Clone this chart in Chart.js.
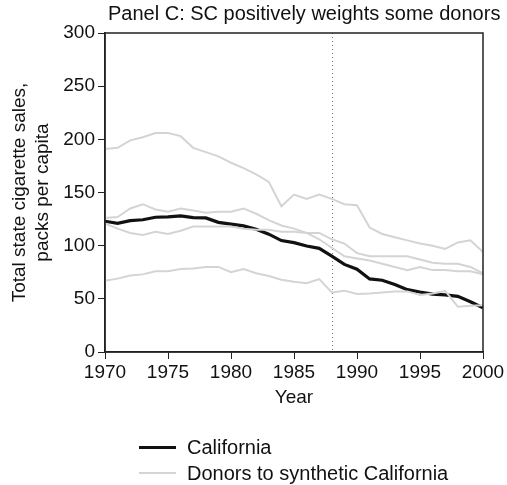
<!DOCTYPE html>
<html>
<head>
<meta charset="utf-8">
<script src="https://cdn.jsdelivr.net/npm/chart.js@4.4.1/dist/chart.umd.min.js"></script>
<style>
  body { margin: 0; background: #fff; }
  #wrap { position: relative; width: 507px; height: 485px; }
  #legend { position: absolute; left: 139px; top: 434px; font: 20px "Liberation Sans", Arial, sans-serif; color: #111; }
  .item { display: flex; align-items: center; height: 26px; }
  .swatch { width: 37px; margin-right: 11px; }
</style>
</head>
<body>
<div id="wrap">
  <canvas id="chart" width="507" height="485"></canvas>
  <div id="legend">
    <div class="item"><span class="swatch" style="border-top:3px solid #111"></span>California</div>
    <div class="item"><span class="swatch" style="border-top:2px solid #d4d4d4"></span>Donors to synthetic California</div>
  </div>
</div>
<script>
const years = [1970, 1971, 1972, 1973, 1974, 1975, 1976, 1977, 1978, 1979, 1980,
               1981, 1982, 1983, 1984, 1985, 1986, 1987, 1988, 1989, 1990,
               1991, 1992, 1993, 1994, 1995, 1996, 1997, 1998, 1999, 2000];

const california = [123.0, 121.0, 123.5, 124.4, 126.7, 127.1, 128.0, 126.4, 126.1, 121.9, 120.2,
                    118.6, 115.4, 110.8, 104.8, 102.8, 99.7, 97.5, 90.1, 82.4, 77.8,
                    68.7, 67.5, 63.4, 58.6, 56.4, 54.5, 53.8, 52.3, 47.2, 41.6];

// gray donor states
const donorHigh = [191, 192, 199, 202, 206, 206, 203, 192, 188, 184, 178,
                   173, 167, 160, 137, 148, 144, 148, 144, 139, 138,
                   117, 111, 108, 105, 102, 100, 97, 103, 105, 94];
const donorA = [126, 127, 135, 139, 134, 132, 135, 133, 131, 132, 132,
                135, 130, 124, 119, 116, 112, 106, 98, 90, 88,
                86, 83, 80, 77, 80, 77, 77, 76, 76, 73];
const donorB = [121, 116, 112, 110, 113, 111, 114, 118, 118, 118, 118,
                116, 115, 115, 113, 113, 112, 112, 106, 102, 93,
                90, 90, 90, 90, 87, 84, 83, 83, 80, 74];
const donorLow = [67, 69, 72, 73, 76, 76, 78, 78.5, 80, 80, 75,
                  78, 74, 71.5, 68, 66, 64.6, 68.6, 56, 57.7, 54.5,
                  55, 56, 57, 57, 53.6, 55, 57.4, 42.6, 43.5, 44];

const yTicks = [0, 50, 100, 150, 200, 250, 300];
const xTicks = [1970, 1975, 1980, 1985, 1990, 1995, 2000];
const treatYear = 1988;
const titleText = 'Panel C: SC positively weights some donors';

const FONT = '"Liberation Sans", Arial, sans-serif';

function pts(vals) {
    return years.map((y, i) => ({ x: y, y: vals[i] }));
}

const donorStyle = { borderColor: '#d4d4d4', borderWidth: 2, pointRadius: 0, fill: false, tension: 0 };

const extras = {
    id: 'extras',
    beforeDatasetsDraw(chart) {
        const { ctx, chartArea, scales } = chart;
        const x = Math.round(scales.x.getPixelForValue(treatYear)) + 0.5;
        ctx.save();
        ctx.strokeStyle = '#777';
        ctx.lineWidth = 1;
        ctx.setLineDash([1, 3]);
        ctx.beginPath();
        ctx.moveTo(x, chartArea.top);
        ctx.lineTo(x, chartArea.bottom);
        ctx.stroke();
        ctx.restore();
    },
    afterDatasetsDraw(chart) {
        const { ctx, chartArea } = chart;
        ctx.save();
        ctx.strokeStyle = '#222';
        ctx.lineWidth = 1.5;
        ctx.strokeRect(chartArea.left, chartArea.top, chartArea.right - chartArea.left, chartArea.bottom - chartArea.top);
        ctx.fillStyle = '#111';
        ctx.font = '20px ' + FONT;
        ctx.textAlign = 'left';
        ctx.textBaseline = 'alphabetic';
        ctx.fillText(titleText, chartArea.left + 3, 20);
        ctx.restore();
    }
};

new Chart(document.getElementById('chart'), {
    type: 'line',
    data: {
        datasets: [
            { label: 'Donors to synthetic California', data: pts(donorHigh), ...donorStyle },
            { label: 'Donor', data: pts(donorA), ...donorStyle },
            { label: 'Donor', data: pts(donorB), ...donorStyle },
            { label: 'Donor', data: pts(donorLow), ...donorStyle },
            { label: 'California', data: pts(california), borderColor: '#111', borderWidth: 3.2, pointRadius: 0, fill: false, tension: 0 }
        ]
    },
    options: {
        responsive: false,
        animation: false,
        layout: { padding: { top: 33, right: 24, bottom: 73, left: 0 } },
        plugins: { legend: { display: false }, tooltip: { enabled: false } },
        scales: {
            x: {
                type: 'linear',
                min: 1970,
                max: 2000,
                afterFit(scale) { scale.height = 60; },
                afterBuildTicks(scale) { scale.ticks = xTicks.map(v => ({ value: v })); },
                grid: { drawOnChartArea: false, drawTicks: true, tickLength: 7, color: '#222' },
                border: { display: true, color: '#222', width: 1.5 },
                ticks: { color: '#111', font: { size: 19, family: FONT }, padding: 2, maxRotation: 0, callback: v => String(v) },
                title: { display: true, text: 'Year', color: '#111', font: { size: 19, family: FONT }, padding: { top: 0, bottom: 3 } }
            },
            y: {
                min: 0,
                max: 300,
                afterFit(scale) { scale.width = 105; },
                afterBuildTicks(scale) { scale.ticks = yTicks.map(v => ({ value: v })); },
                grid: { drawOnChartArea: false, drawTicks: true, tickLength: 7, color: '#222' },
                border: { display: true, color: '#222', width: 1.5 },
                ticks: { color: '#111', font: { size: 19, family: FONT }, padding: 3 },
                title: {
                    display: true,
                    text: ['Total state cigarette sales,', 'packs per capita'],
                    color: '#111',
                    font: { size: 19, family: FONT, lineHeight: 1.17 },
                    padding: { top: 9, bottom: 0 }
                }
            }
        }
    },
    plugins: [extras]
});
</script>
</body>
</html>
